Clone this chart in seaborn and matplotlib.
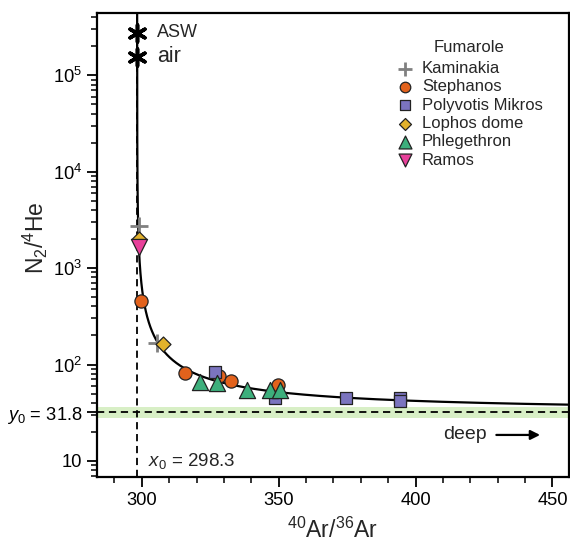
import matplotlib
matplotlib.use("Agg")
import matplotlib.pyplot as plt
import numpy as np
import pandas as pd
import seaborn as sns
from matplotlib.ticker import FixedLocator, FixedFormatter, LogLocator, MultipleLocator, NullFormatter

# mixing end-member parameters (from the figure)
x0 = 298.3
y0 = 31.8
mix_k = 1030.0
band_lo, band_hi = 27.6, 36.4

# fumarole samples
kaminakia_x = [298.8, 305.4]
kaminakia_y = [2760, 167]
stephanos_x = [299.7, 315.6, 328.1, 332.5, 349.6]
stephanos_y = [452, 82, 76, 68, 62]
polyvotis_x = [326.9, 348.8, 374.6, 394.3, 394.3]
polyvotis_y = [83, 45, 45, 44.5, 41.5]
lophos_x = [299.0, 307.8]
lophos_y = [1980, 162]
phlegethron_x = [321.2, 327.3, 338.3, 346.8, 350.4]
phlegethron_y = [66, 65, 54, 54, 54]
ramos_x = [298.9]
ramos_y = [1650]

# reference end-members
ref_names = ["ASW", "air"]
ref_x = [298.3, 298.3]
ref_y = [2.75e5, 1.55e5]

y_ticks = [10, y0, 100, 1000, 1e4, 1e5]
y_labels = ["10", "$y_0$ = 31.8", "10$^2$", "10$^3$", "10$^4$", "10$^5$"]

sns.set_theme(style="ticks")
plt.rcParams["font.family"] = ["Liberation Sans", "DejaVu Sans"]
plt.rcParams["mathtext.fontset"] = "custom"
plt.rcParams["mathtext.rm"] = "Liberation Sans"
plt.rcParams["mathtext.it"] = "Liberation Sans:italic"
plt.rcParams["mathtext.bf"] = "Liberation Sans:bold"

fig = plt.figure(figsize=(5.7, 5.49), dpi=100)
ax = fig.add_axes([0.170, 0.131, 0.828, 0.845])

# green band + dashed asymptotes
ax.axhspan(band_lo, band_hi, color="#d8efc6", lw=0, zorder=0)
ax.axhline(y0, color="black", lw=1.3, ls=(0, (4, 2.6)), zorder=1)
ax.axvline(x0, color="black", lw=1.3, ls=(0, (4, 2.6)), zorder=1)

# mixing hyperbola
dx = np.geomspace(1e-3, 170, 400)
curve = pd.DataFrame({"x": x0 + dx, "y": y0 + mix_k / dx})
sns.lineplot(data=curve, x="x", y="y", sort=False, estimator=None,
             color="black", lw=1.6, ax=ax, zorder=2)

groups = [
    ("Kaminakia", kaminakia_x, kaminakia_y, "+", "#808080", 180),
    ("Stephanos", stephanos_x, stephanos_y, "o", "#e2621c", 90),
    ("Polyvotis Mikros", polyvotis_x, polyvotis_y, "s", "#7b74bf", 78),
    ("Lophos dome", lophos_x, lophos_y, "D", "#e2b22c", 58),
    ("Phlegethron", phlegethron_x, phlegethron_y, "^", "#3daf7c", 135),
    ("Ramos", ramos_x, ramos_y, "v", "#e8409a", 135),
]
for i, (name, gx, gy, mk, col, size) in enumerate(groups):
    if mk == "+":
        sns.scatterplot(x=gx, y=gy, marker=mk, color=col, s=size,
                        linewidth=2, label=name, ax=ax, zorder=3 + i)
    else:
        sns.scatterplot(x=gx, y=gy, marker=mk, color=col, s=size,
                        edgecolor="#222222", linewidth=0.9, label=name,
                        ax=ax, zorder=3 + i)

sns.scatterplot(x=ref_x, y=ref_y, marker=(6, 2, 0), color="black", s=150,
                linewidth=2.6, ax=ax, zorder=10, legend=False)
ax.text(305.5, ref_y[0], ref_names[0], fontsize=13, va="center", ha="left")
ax.text(305.5, ref_y[1], ref_names[1], fontsize=15.5, va="center", ha="left")

ax.text(302.2, 9.9, "$x_0$ = 298.3", fontsize=13.5, va="center", ha="left")
ax.text(410, 18.6, "deep", fontsize=14, va="center", ha="left")
ax.annotate("", xy=(446.5, 18.6), xytext=(428.5, 18.6),
            arrowprops=dict(arrowstyle="-|>", color="black", lw=1.6,
                            mutation_scale=14))

ax.set_yscale("log")
ax.set_xlim(283.6, 456)
ax.set_ylim(6.8, 4.4e5)

ax.xaxis.set_major_locator(FixedLocator([300, 350, 400, 450]))
ax.xaxis.set_minor_locator(MultipleLocator(10))
ax.yaxis.set_major_locator(FixedLocator(y_ticks))
ax.yaxis.set_major_formatter(FixedFormatter(y_labels))
ax.yaxis.set_minor_locator(LogLocator(base=10, subs=np.arange(2, 10), numticks=20))
ax.yaxis.set_minor_formatter(NullFormatter())

ax.tick_params(axis="both", which="major", direction="out", length=7,
               width=1.3, labelsize=13.2, colors="black")
ax.tick_params(axis="both", which="minor", direction="out", length=4.2,
               width=1.1, colors="black")
ax.tick_params(axis="x", which="major", pad=4)

for side in ["top", "right", "bottom", "left"]:
    ax.spines[side].set_visible(True)
    ax.spines[side].set_linewidth(1.6)
    ax.spines[side].set_color("black")

ax.set_xlabel("$^{40}$Ar/$^{36}$Ar", fontsize=16.5, labelpad=6)
ax.set_ylabel("N$_2$/$^4$He", fontsize=16.5)
ax.yaxis.set_label_coords(-0.099, 0.517)

leg = ax.legend(title="Fumarole", loc="upper right", frameon=False,
                bbox_to_anchor=(551 / 570, 1 - 32 / 549),
                bbox_transform=fig.transFigure, fontsize=12,
                title_fontsize=12, handletextpad=0.4, labelspacing=0.2,
                borderpad=0, handlelength=1.2, markerscale=0.8)
leg._legend_box.sep = 4

fig.savefig("out.png", dpi=100)
